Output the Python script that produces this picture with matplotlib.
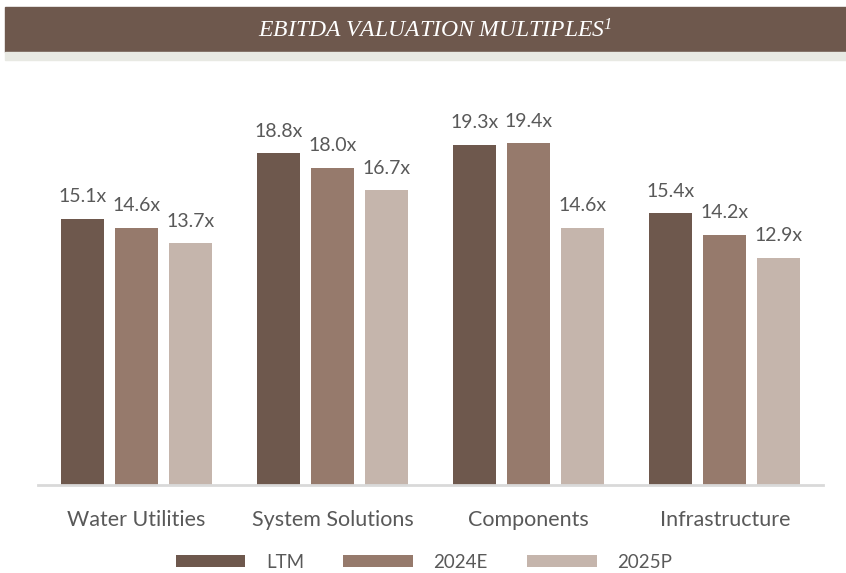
import numpy as np
import matplotlib.pyplot as plt
from matplotlib.patches import Rectangle

# Datos
categorias = ["Water Utilities", "System Solutions", "Components", "Infrastructure"]
series = ["LTM", "2024E", "2025P"]
ltm = [15.1, 18.8, 19.3, 15.4]
e2024 = [14.6, 18.0, 19.4, 14.2]
p2025 = [13.7, 16.7, 14.6, 12.9]

colores = ["#6E584D", "#967A6C", "#C5B5AC"]
gris = "#595959"

plt.rcParams['font.family'] = ['Lato', 'DejaVu Sans']
plt.rcParams['mathtext.fontset'] = 'custom'
plt.rcParams['mathtext.it'] = 'Liberation Serif:italic'
plt.rcParams['mathtext.rm'] = 'Liberation Serif:italic'

fig = plt.figure(figsize=(8.46, 5.73), dpi=100)
ax = fig.add_axes([38/846, 88/573, 785/846, 425/573])

x = np.arange(len(categorias))
ancho = 0.22
paso = 0.275
for i, (vals, nombre) in enumerate(zip([ltm, e2024, p2025], series)):
    pos = x + (i - 1) * paso
    barras = ax.bar(pos, vals, width=ancho, color=colores[i], label=nombre)
    for b, v in zip(barras, vals):
        ax.text(b.get_x() + b.get_width() / 2, v + 0.75, f"{v:.1f}x",
                ha="center", va="bottom", fontsize=14, color=gris)

ax.set_xlim(-0.5, 3.5)
ax.set_ylim(0, 24.1)
ax.set_yticks([])
ax.set_xticks(x)
ax.set_xticklabels(categorias, fontsize=15.5, color=gris)
ax.tick_params(axis="x", length=0, pad=18)
for lado in ["top", "right", "left"]:
    ax.spines[lado].set_visible(False)
ax.spines["bottom"].set_color("#D9D9D9")
ax.spines["bottom"].set_linewidth(2)

# Banda del titulo
fig.patches.append(Rectangle((5/846, 1 - 52/573), 1, 45/573, transform=fig.transFigure,
                             color="#6E584D", zorder=0))
fig.patches.append(Rectangle((5/846, 1 - 60/573), 1, 8/573, transform=fig.transFigure,
                             color="#E8E9E3", zorder=0))
fig.text(435/846, 1 - 31/573, "EBITDA VALUATION MULTIPLES$^{1}$", ha="center", va="center",
         color="white", fontsize=17, family="Liberation Serif", style="italic")

fig.legend(loc="center", bbox_to_anchor=(424/846, 1 - 562/573), ncol=3, frameon=False,
           fontsize=13.5, labelcolor=gris, handlelength=3.7, handleheight=0.56,
           handletextpad=1.1, columnspacing=2.1)

plt.savefig("out.png", dpi=100)
